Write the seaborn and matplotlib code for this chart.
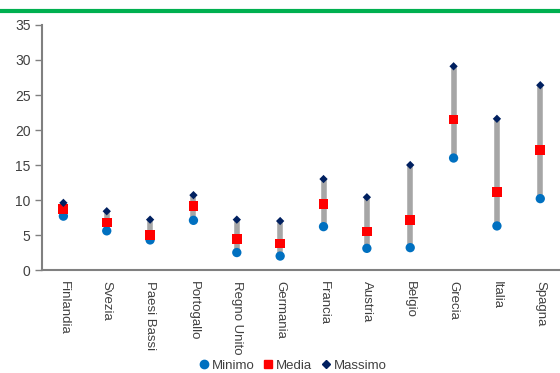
import numpy as np
import pandas as pd
import seaborn as sns
import matplotlib
matplotlib.use("Agg")
import matplotlib.pyplot as plt
from matplotlib.lines import Line2D

paesi = ["Finlandia", "Svezia", "Paesi Bassi", "Portogallo", "Regno Unito",
         "Germania", "Francia", "Austria", "Belgio", "Grecia", "Italia", "Spagna"]
minimo = [7.7, 5.6, 4.3, 7.1, 2.5, 2.0, 6.2, 3.1, 3.2, 16.0, 6.3, 10.2]
media = [8.7, 6.8, 5.0, 9.1, 4.4, 3.8, 9.4, 5.5, 7.1, 21.5, 11.2, 17.2]
massimo = [9.6, 8.4, 7.2, 10.7, 7.2, 7.0, 13.0, 10.4, 15.0, 29.1, 21.6, 26.4]
y_ticks = [0, 5, 10, 15, 20, 25, 30, 35]

sns.set_theme(style="white")
plt.rcParams["font.family"] = ["Liberation Sans Narrow", "Liberation Sans", "DejaVu Sans"]

df = pd.DataFrame({"Paese": paesi, "Minimo": minimo, "Media": media, "Massimo": massimo})
df["x"] = np.arange(len(paesi))

fig = plt.figure(figsize=(5.6, 3.73), dpi=100)
ax = fig.add_axes([0.0745, 0.276, 0.929, 0.657])

# range bars from minimum to maximum
ax.vlines(df["x"], df["Minimo"], df["Massimo"], color="#a6a6a6", lw=4, zorder=1)

sns.scatterplot(data=df, x="x", y="Minimo", ax=ax, marker="o", s=45,
                color="#0070c0", edgecolor="none", zorder=3, legend=False)
sns.scatterplot(data=df, x="x", y="Media", ax=ax, marker="s", s=50,
                color="#ff0000", edgecolor="none", zorder=4, legend=False)
sns.scatterplot(data=df, x="x", y="Massimo", ax=ax, marker="D", s=18,
                color="#002060", edgecolor="none", zorder=5, legend=False)

ax.set_xlim(-0.5, len(paesi) - 0.5)
ax.set_ylim(0, 35)
ax.set_yticks(y_ticks)
ax.set_yticklabels([str(v) for v in y_ticks], fontsize=10, color="#404040")
ax.set_xticks(df["x"])
ax.set_xticklabels(paesi, rotation=270, fontsize=9.5, color="#404040",
                   va="top", ha="center")
ax.set_xticks(np.arange(-0.5, len(paesi), 1.0), minor=True)
ax.tick_params(axis="x", which="major", length=0, pad=8)
ax.tick_params(axis="x", which="minor", length=5, width=1, color="#808080", direction="out")
ax.tick_params(axis="y", which="major", length=5, width=1, color="#808080",
               direction="out", pad=3, left=True)
ax.set_xlabel("")
ax.set_ylabel("")

for side in ["top", "right"]:
    ax.spines[side].set_visible(False)
for side in ["left", "bottom"]:
    ax.spines[side].set_color("#808080")
    ax.spines[side].set_linewidth(1.5)

handles = [
    Line2D([], [], marker="o", ls="none", color="#0070c0", markersize=6),
    Line2D([], [], marker="s", ls="none", color="#ff0000", markersize=6),
    Line2D([], [], marker="D", ls="none", color="#002060", markersize=4),
]
fig.legend(handles, ["Minimo", "Media", "Massimo"], loc="center",
           bbox_to_anchor=(0.523, 0.019), ncol=3, frameon=False, fontsize=9.5,
           handletextpad=0.25, columnspacing=0.7, handlelength=0.7,
           labelcolor="#404040")

# green rule across the top
fig.add_artist(Line2D([0, 1], [0.971, 0.971], transform=fig.transFigure,
                      color="#00b050", lw=3))

fig.savefig("out.png", dpi=100)
